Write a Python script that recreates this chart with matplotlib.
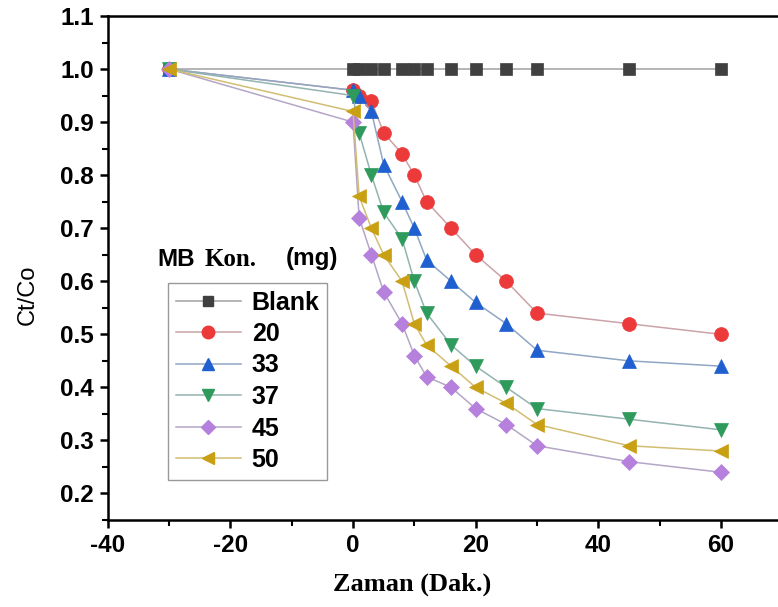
import matplotlib
matplotlib.use("Agg")
import matplotlib.pyplot as plt
from matplotlib.lines import Line2D
from matplotlib.ticker import MultipleLocator

times = [-30, 0, 1, 3, 5, 8, 10, 12, 16, 20, 25, 30, 45, 60]
blank = [1.0] * 14
c20 = [1.0, 0.96, 0.95, 0.94, 0.88, 0.84, 0.80, 0.75, 0.70, 0.65, 0.60, 0.54, 0.52, 0.50]
c33 = [1.0, 0.96, 0.95, 0.92, 0.82, 0.75, 0.70, 0.64, 0.60, 0.56, 0.52, 0.47, 0.45, 0.44]
c37 = [1.0, 0.95, 0.88, 0.80, 0.73, 0.68, 0.60, 0.54, 0.48, 0.44, 0.40, 0.36, 0.34, 0.32]
c45 = [1.0, 0.90, 0.72, 0.65, 0.58, 0.52, 0.46, 0.42, 0.40, 0.36, 0.33, 0.29, 0.26, 0.24]
c50 = [1.0, 0.92, 0.76, 0.70, 0.65, 0.60, 0.52, 0.48, 0.44, 0.40, 0.37, 0.33, 0.29, 0.28]
labels = ["Blank", "20", "33", "37", "45", "50"]
series = [blank, c20, c33, c37, c45, c50]

marker_colors = ["#404040", "#ec3a3a", "#1f5fd0", "#2e9a5c", "#b680dd", "#c9a013"]
line_colors = ["#a0a0a0", "#c9a3a8", "#8fa6c4", "#93b3b0", "#b4a6c6", "#d2bd73"]
markers = ["s", "o", "^", "v", "D", "<"]
msizes = [8, 10, 10, 10, 8, 10]

plt.rcParams['font.family'] = ['Liberation Sans', 'DejaVu Sans']
plt.rcParams['axes.unicode_minus'] = False

fig = plt.figure(figsize=(7.78, 6.07), dpi=100)
W, H = 778, 607
ax = fig.add_axes([107.7 / W, 1 - 520 / H, (778 - 107.7) / W, (520 - 16) / H])

for y, lab, mc, lc, mk, ms in zip(series, labels, marker_colors, line_colors, markers, msizes):
    ax.plot(times, y, color=lc, lw=1.1, marker=mk, markersize=ms,
            markerfacecolor=mc, markeredgecolor=mc, markeredgewidth=0.5, label=lab)

ax.set_xlim(-40, 69.3)
ax.set_ylim(0.15, 1.1)
ax.xaxis.set_major_locator(MultipleLocator(20))
ax.xaxis.set_minor_locator(MultipleLocator(10))
ax.yaxis.set_major_locator(MultipleLocator(0.1))
ax.yaxis.set_minor_locator(MultipleLocator(0.05))
ax.yaxis.set_major_formatter(plt.FuncFormatter(lambda v, p: f"{v:.1f}"))
ax.tick_params(which='major', direction='out', length=6, width=1.8, labelsize=17.5, pad=4)
ax.tick_params(which='minor', direction='out', length=4, width=1.5)
for t in ax.get_xticklabels() + ax.get_yticklabels():
    t.set_fontweight('bold')
for s in ['left', 'bottom', 'top']:
    ax.spines[s].set_linewidth(1.8)
ax.spines['right'].set_visible(False)

fig.text(412 / W, 1 - 584 / H, "Zaman (Dak.)", family=['Liberation Serif'], fontweight='bold',
         fontsize=19, ha='center', va='center')
fig.text(28 / W, 1 - 295 / H, "Ct/Co", fontsize=17, rotation=90, ha='center', va='center')

fig.text(157 / W, 1 - 259 / H, "MB", fontweight='bold', fontsize=17.5, ha='left', va='center')
fig.text(205 / W, 1 - 259 / H, "Kon.", family=['Liberation Serif'], fontweight='bold', fontsize=18,
         ha='left', va='center')
fig.text(286 / W, 1 - 259 / H, "(mg)", fontweight='bold', fontsize=17.5, ha='left', va='center')

handles = []
for lab, mc, lc, mk, ms in zip(labels, marker_colors, line_colors, markers, msizes):
    handles.append(Line2D([], [], color=lc, lw=1.1, marker=mk, markersize=ms - 1,
                          markerfacecolor=mc, markeredgecolor=mc, label=lab))
leg = ax.legend(handles=handles, loc='upper left', bbox_to_anchor=(168 / W, 1 - 283 / H),
                bbox_transform=fig.transFigure, borderaxespad=0, frameon=True, fancybox=False,
                prop={'weight': 'bold', 'size': 18}, handlelength=2.6, handletextpad=0.45,
                labelspacing=0.3, borderpad=0.3)
leg.get_frame().set_edgecolor('#808080')
leg.get_frame().set_linewidth(1.0)

fig.savefig("out.png", dpi=100)
